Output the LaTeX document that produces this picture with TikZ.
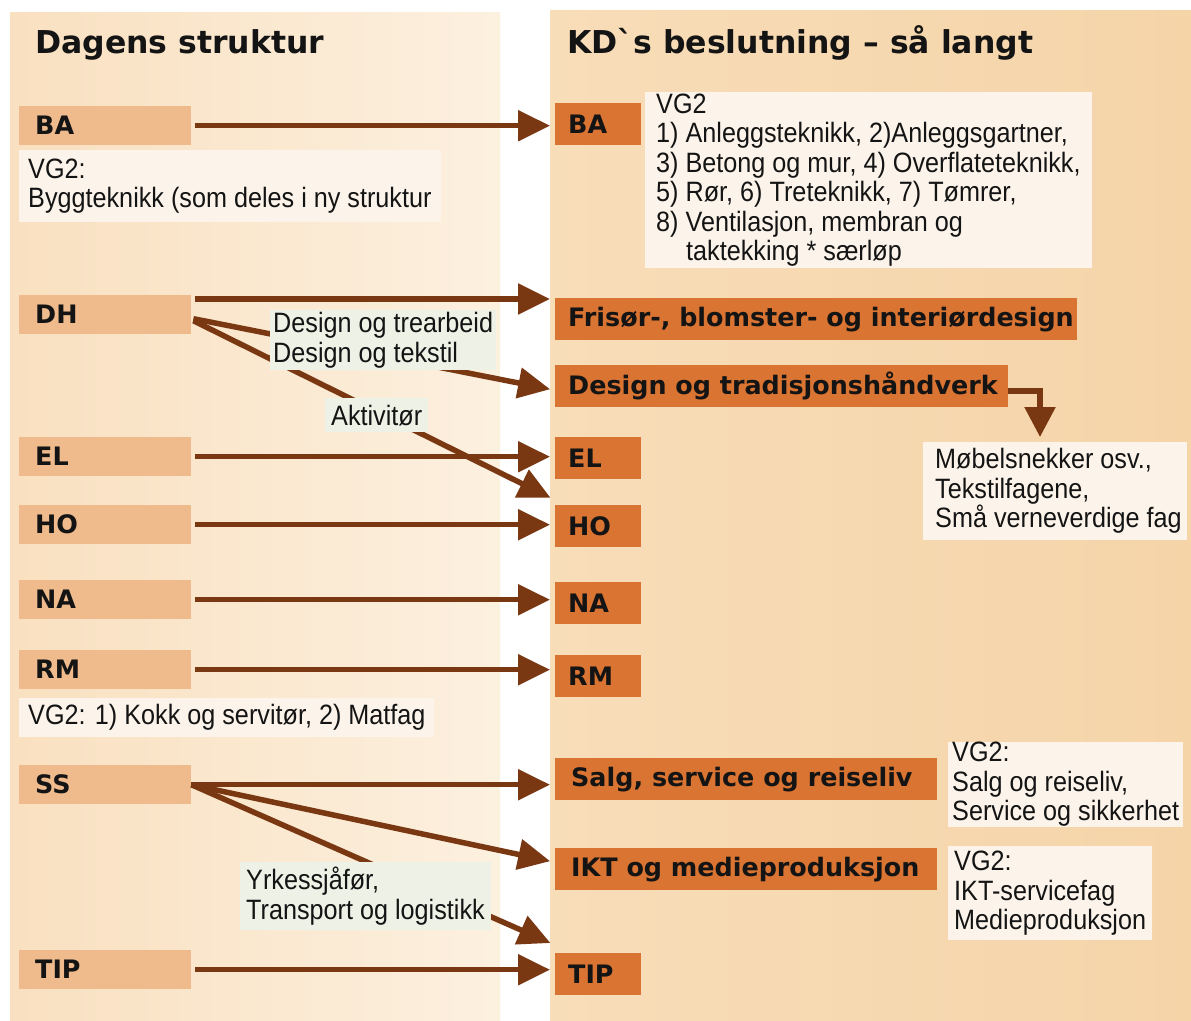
\documentclass[tikz,border=0pt]{standalone}
\usepackage{fontspec}
\usetikzlibrary{arrows.meta,calc}
\newfontfamily\rf[FakeStretch=0.9]{Liberation Sans}
\newfontfamily\bfnt{DejaVu Sans Bold}
\definecolor{lpanelA}{HTML}{F9E0C0}
\definecolor{lpanelB}{HTML}{FCF0DF}
\definecolor{rpanelA}{HTML}{F8DDB9}
\definecolor{rpanelB}{HTML}{F5D4A8}
\definecolor{lboxc}{HTML}{EFBB8C}
\definecolor{rboxc}{HTML}{D97432}
\definecolor{arrc}{HTML}{7A3812}
\definecolor{tboxc}{HTML}{FCF4EA}
\definecolor{gboxc}{HTML}{EEF1E6}
\definecolor{txtc}{HTML}{141414}
\tikzset{
  lbox/.style={fill=lboxc, anchor=north west, minimum height=39pt, inner ysep=0pt,
    inner xsep=16pt, text width=140pt, align=flush left, text=txtc,
    font=\bfnt\fontsize{25.4}{28}\selectfont},
  rbox/.style={fill=rboxc, anchor=north west, minimum height=42pt, inner ysep=0pt,
    inner xsep=13pt, text width=#1, align=flush left, text=txtc,
    font=\bfnt\fontsize{25.4}{28}\selectfont},
  tbox/.style={fill=tboxc, anchor=north west, inner ysep=0pt, inner xsep=8pt,
    align=left, text=txtc, font=\rf\fontsize{28}{29.5}\selectfont},
  gbox/.style={tbox, fill=gboxc, inner xsep=3pt},
  ttl/.style={anchor=base west, inner sep=0pt, text=txtc,
    font=\bfnt\fontsize{31.5}{34}\selectfont},
  arr/.style={draw=arrc, line width=5.5pt, -{Triangle[length=32pt,width=30pt]}},
}
\begin{document}
\begin{tikzpicture}[x=1pt,y=-1pt]
\useasboundingbox (0,0) rectangle (1191,1020);
\fill[white] (0,0) rectangle (1191,1020);
% panels
\fill[left color=lpanelA, right color=lpanelB] (10,12) rectangle (500,1020);
\fill[left color=rpanelA, right color=rpanelB] (550,10) rectangle (1191,1020);
% titles
\node[ttl] (t1) at (35,53) {Dagens struktur};
\node[ttl] (t2) at (567,53) {KDˋs beslutning – så langt};
% left boxes
\node[lbox] (lBA) at (19,106) {BA};
\node[lbox] (lDH) at (19,295) {DH};
\node[lbox] (lEL) at (19,437) {EL};
\node[lbox] (lHO) at (19,505) {HO};
\node[lbox] (lNA) at (19,580) {NA};
\node[lbox] (lRM) at (19,650) {RM};
\node[lbox] (lSS) at (19,765) {SS};
\node[lbox] (lTIP) at (19,950) {TIP};
% right boxes
\node[rbox=60pt] (rBA) at (555,103) {BA};
\node[rbox=496pt] (rFri) at (555,298) {\mbox{Frisør-, blomster- og interiørdesign}};
\node[rbox=427pt] (rDes) at (555,365) {\mbox{Design og tradisjonshåndverk}};
\node[rbox=60pt] (rEL) at (555,437) {EL};
\node[rbox=60pt] (rHO) at (555,505) {HO};
\node[rbox=60pt] (rNA) at (555,582) {NA};
\node[rbox=60pt] (rRM) at (555,655) {RM};
\node[rbox=356pt] (rSalg) at (555,758) {\mbox{\hspace*{3pt}Salg, service og reiseliv}};
\node[rbox=356pt] (rIKT) at (555,848) {\mbox{\hspace*{3pt}IKT og medieproduksjon}};
\node[rbox=60pt] (rTIP) at (555,953) {TIP};
% text boxes
\node[tbox, minimum height=72pt, inner xsep=9pt] (vBA) at (19,150) {VG2:\\Byggteknikk (som deles i ny struktur};
\node[tbox, minimum height=176pt, inner xsep=11pt] (vBAr) at (645,92)
  {VG2\\1) Anleggsteknikk, 2)Anleggsgartner,\\3) Betong og mur, 4) Overflateteknikk,\\5) Rør, 6) Treteknikk, 7) Tømrer,\\8) Ventilasjon, membran og\\\hspace*{30pt}taktekking * særløp};
\node[tbox, minimum height=39pt, inner xsep=9pt] (vRM) at (19,698) {VG2: 1) Kokk og servitør, 2) Matfag};
\node[tbox, minimum height=80pt, inner xsep=4pt] (vSalg) at (948,742) {VG2:\\Salg og reiseliv,\\Service og sikkerhet};
\node[tbox, minimum height=94pt, inner xsep=6pt] (vIKT) at (948,846) {VG2:\\IKT-servicefag\\Medieproduksjon};
\node[tbox, minimum height=98pt, inner xsep=5pt] (mob) at (923,442) {\hspace*{7pt}Møbelsnekker osv.,\\\hspace*{7pt}Tekstilfagene,\\\hspace*{7pt}Små verneverdige fag};
% arrows
\draw[arr, shorten <=4pt, shorten >=5pt] (lBA.east) -- (lBA.east -| rBA.west);
\coordinate (dhA) at ($(lDH.north east)+(0,4)$);
\draw[arr, shorten <=4pt, shorten >=5pt] (dhA) -- (dhA -| rFri.west);
\draw[arr, shorten >=5pt] ($(lDH.east)+(2,4)$) -- ($(rDes.west)+(0,4)$);
\draw[arr, shorten >=5pt] ($(lDH.east)+(2,6)$) -- ($(rHO.north west)+(0,-5)$);
\draw[arr, shorten <=4pt, shorten >=5pt] (lEL.east) -- (lEL.east -| rEL.west);
\draw[arr, shorten <=4pt, shorten >=5pt] (lHO.east) -- (lHO.east -| rHO.west);
\draw[arr, shorten <=4pt, shorten >=5pt] (lNA.east) -- (lNA.east -| rNA.west);
\draw[arr, shorten <=4pt, shorten >=5pt] (lRM.east) -- (lRM.east -| rRM.west);
\draw[arr, shorten >=5pt] (lSS.east) -- (lSS.east -| rSalg.west);
\draw[arr, shorten >=5pt] (lSS.east) -- ($(rIKT.west)+(0,-7)$);
\draw[arr, shorten >=5pt] (lSS.east) -- ($(rTIP.north west)+(0,-8)$);
\draw[arr, shorten <=4pt, shorten >=5pt] (lTIP.east) -- (lTIP.east -| rTIP.west);
\draw[draw=arrc, line width=5.5pt, -{Triangle[length=30pt,width=30pt]}]
  ($(rDes.east)+(0,5)$) -| ($(mob.north west)+(117,-5)$);
% labels over arrows
\node[gbox, minimum height=60pt] (dhl) at (270,310) {Design og trearbeid\\Design og tekstil};
\node[gbox, minimum height=34pt, inner xsep=6pt] (akt) at (325,398) {Aktivitør};
\node[gbox, minimum height=68pt, inner xsep=6pt] (yrk) at (240,862) {Yrkessjåfør,\\Transport og logistikk};
\end{tikzpicture}
\end{document}
